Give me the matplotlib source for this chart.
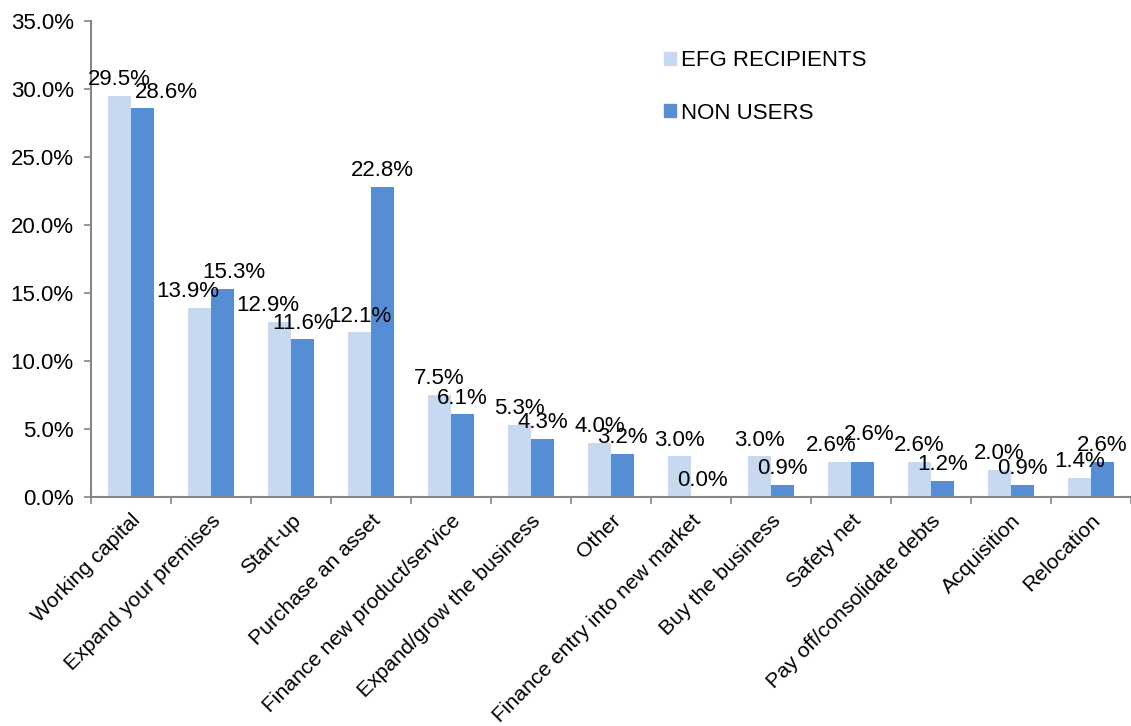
import matplotlib
matplotlib.use("Agg")
import matplotlib.pyplot as plt
import matplotlib.transforms as mtransforms
import numpy as np
from matplotlib.patches import Patch

categories = ["Working capital", "Expand your premises", "Start-up", "Purchase an asset",
              "Finance new product/service", "Expand/grow the business", "Other",
              "Finance entry into new market", "Buy the business", "Safety net",
              "Pay off/consolidate debts", "Acquisition", "Relocation"]
efg = [29.5, 13.9, 12.9, 12.1, 7.5, 5.3, 4.0, 3.0, 3.0, 2.6, 2.6, 2.0, 1.4]
non_users = [28.6, 15.3, 11.6, 22.8, 6.1, 4.3, 3.2, 0.0, 0.9, 2.6, 1.2, 0.9, 2.6]
series_names = ["EFG RECIPIENTS", "NON USERS"]
yticks = [0, 5, 10, 15, 20, 25, 30, 35]

plt.rcParams['font.family'] = ['Liberation Sans', 'DejaVu Sans']
FS = 16
FSX = 15.3
light = "#C6D9F1"
dark = "#558ED5"
axc = "#868686"

# label nudges (category units / points) to mimic the reference's manual label placement
nudge_x = {0: (0.0, 0.30), 1: (-0.14, 0.14), 2: (-0.15, 0.0), 9: (-0.1, 0.08)}
nudge_y = {9: (0, 8)}

fig = plt.figure(figsize=(11.31, 7.26), dpi=100)
ax = fig.add_axes([0.0805, 0.3154, 0.9195, 0.6556])

x = np.arange(len(categories))
w = 0.29
ax.bar(x - w / 2, efg, w, color=light, label=series_names[0])
ax.bar(x + w / 2, non_users, w, color=dark, label=series_names[1])

for i in range(len(categories)):
    a, b = efg[i], non_users[i]
    da, db = nudge_x.get(i, (0.0, 0.0))
    ya, yb = nudge_y.get(i, (0, 0))
    ax.annotate(f"{a:.1f}%", (x[i] - w / 2 + da, a), xytext=(0, 4 + ya), textcoords="offset points",
                ha="center", va="bottom", fontsize=FS, annotation_clip=False)
    ax.annotate(f"{b:.1f}%", (x[i] + w / 2 + db, b), xytext=(0, 4 + yb), textcoords="offset points",
                ha="center", va="bottom", fontsize=FS, annotation_clip=False)

ax.set_xlim(-0.5, len(categories) - 0.5)
ax.set_ylim(0, 35)
ax.set_yticks(yticks)
ax.set_yticklabels([f"{v:.1f}%" for v in yticks], fontsize=FS)
ax.set_xticks(x)
ax.set_xticklabels(categories, rotation=45, ha="right", rotation_mode="anchor", fontsize=FSX)
offset = mtransforms.ScaledTranslation(6 / 100, 0, fig.dpi_scale_trans)
for lbl in ax.get_xticklabels():
    lbl.set_transform(lbl.get_transform() + offset)
ax.set_xticks(np.arange(len(categories) + 1) - 0.5, minor=True)
ax.tick_params(axis="x", which="major", length=0, pad=10)
ax.tick_params(axis="x", which="minor", length=5, color=axc, width=1.2)
ax.tick_params(axis="y", length=5, color=axc, width=1.2, pad=7.5)
for s in ["top", "right"]:
    ax.spines[s].set_visible(False)
for s in ["left", "bottom"]:
    ax.spines[s].set_color(axc)
    ax.spines[s].set_linewidth(1.5)

handles = [Patch(color=light), Patch(color=dark)]
fig.legend(handles, series_names, loc="upper left", bbox_to_anchor=(0.569, 0.958),
           frameon=False, fontsize=FS, handlelength=0.55, handleheight=0.55,
           handletextpad=0.25, labelspacing=1.4)

fig.savefig("out.png", dpi=100)
